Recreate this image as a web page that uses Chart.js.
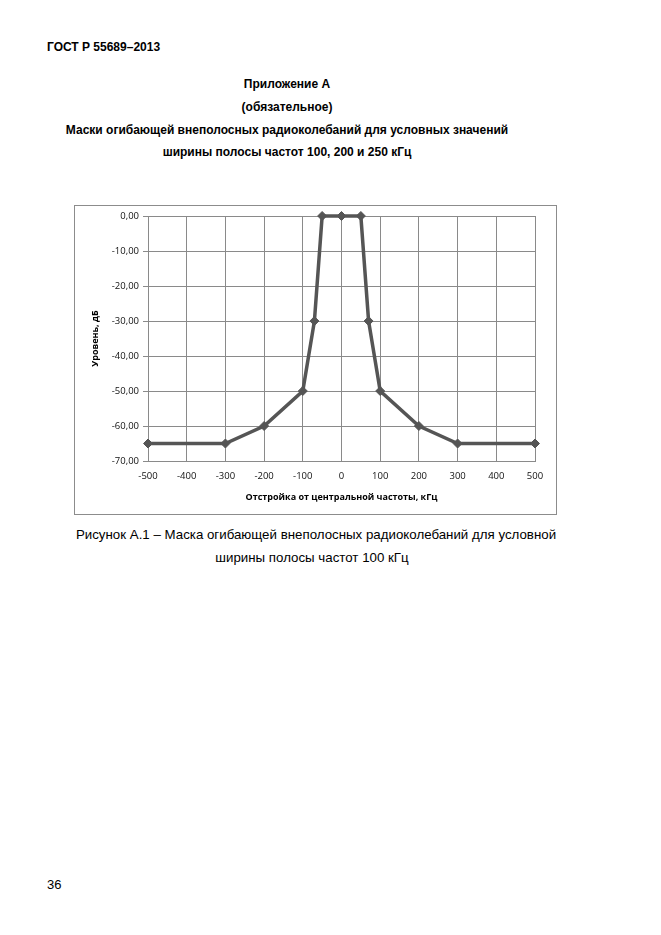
<!DOCTYPE html>
<html>
<head>
<meta charset="utf-8">
<script src="https://cdn.jsdelivr.net/npm/chart.js@4.4.1/dist/chart.umd.min.js"></script>
<style>
  body { margin: 0; background: #fff; width: 661px; height: 935px; position: relative; font-family: "Liberation Sans", Arial, sans-serif; color: #000; }
  .t { position: absolute; white-space: nowrap; line-height: 1; }
  .c { transform: translate(-50%, -50%); }
  .b { font-weight: bold; }
  #box { position: absolute; left: 74px; top: 205px; width: 483px; height: 310px; box-sizing: border-box; border: 1px solid #8c8c8c; }
  #myChart { position: absolute; left: 0; top: 0; }
</style>
</head>
<body>
<div class="t b" style="left:47px; top:41px; font-size:12px;">ГОСТ Р 55689–2013</div>
<div class="t b c" style="left:287px; top:84px; font-size:12px;">Приложение А</div>
<div class="t b c" style="left:287px; top:107px; font-size:12px;">(обязательное)</div>
<div class="t b c" style="left:287px; top:130px; font-size:12px;">Маски огибающей внеполосных радиоколебаний для условных значений</div>
<div class="t b c" style="left:287px; top:152px; font-size:12px;">ширины полосы частот 100, 200 и 250 кГц</div>

<div id="box"><canvas id="myChart" width="481" height="308"></canvas></div>

<div class="t c" style="left:316px; top:535px; font-size:13.3px;">Рисунок А.1 – Маска огибающей внеполосных радиоколебаний для условной</div>
<div class="t c" style="left:312px; top:558px; font-size:13.3px;">ширины полосы частот 100 кГц</div>
<div class="t" style="left:47px; top:878px; font-size:13px;">36</div>

<script>
// offset from centre frequency, kHz
var offsets = [-500, -300, -200, -100, -70, -50, 0, 50, 70, 100, 200, 300, 500];
// mask level, dB
var levels = [-65, -65, -60, -50, -30, 0, 0, 0, -30, -50, -60, -65, -65];
var xTicks = [-500, -400, -300, -200, -100, 0, 100, 200, 300, 400, 500];
var yTicks = [0, -10, -20, -30, -40, -50, -60, -70];

var points = offsets.map(function (x, i) { return { x: x, y: levels[i] }; });

var tickFont = { family: '"Open Sans", sans-serif', size: 9.5 };
var titleFont = { family: '"Open Sans", sans-serif', size: 9, weight: 'bold' };

var ctx = document.getElementById('myChart').getContext('2d');
var myChart = new Chart(ctx, {
    type: 'line',
    data: {
        datasets: [{
            data: points,
            borderColor: '#555555',
            backgroundColor: '#555555',
            borderWidth: 3.5,
            pointStyle: 'rectRot',
            pointRadius: 4.5,
            pointBorderWidth: 1,
            tension: 0,
            clip: false
        }]
    },
    options: {
        responsive: false,
        animation: false,
        layout: { padding: { left: 0, right: 21, top: 10, bottom: 0 } },
        plugins: { legend: { display: false }, tooltip: { enabled: false } },
        scales: {
            x: {
                type: 'linear',
                min: -500,
                max: 500,
                afterBuildTicks: function (scale) {
                    scale.ticks = xTicks.map(function (v) { return { value: v }; });
                },
                afterFit: function (scale) { scale.height = 53; },
                grid: { color: '#8a8a8a', lineWidth: 1, drawTicks: false },
                border: { color: '#8a8a8a' },
                ticks: { font: tickFont, color: '#111', padding: 10, maxRotation: 0 },
                title: {
                    display: true,
                    text: 'Отстройка от центральной частоты, кГц',
                    font: titleFont,
                    color: '#000',
                    padding: { top: 0, bottom: 11 }
                }
            },
            y: {
                min: -70,
                max: 0,
                afterBuildTicks: function (scale) {
                    scale.ticks = yTicks.map(function (v) { return { value: v }; });
                },
                afterFit: function (scale) { scale.width = 73; },
                grid: { color: '#8a8a8a', lineWidth: 1, tickLength: 5 },
                border: { color: '#8a8a8a' },
                ticks: {
                    font: tickFont,
                    color: '#111',
                    padding: 4,
                    callback: function (v) { return v.toFixed(2).replace('.', ','); }
                },
                title: {
                    display: true,
                    text: 'Уровень, дБ',
                    font: titleFont,
                    color: '#000',
                    padding: { top: 15, bottom: 0 }
                }
            }
        }
    }
});
</script>
</body>
</html>
